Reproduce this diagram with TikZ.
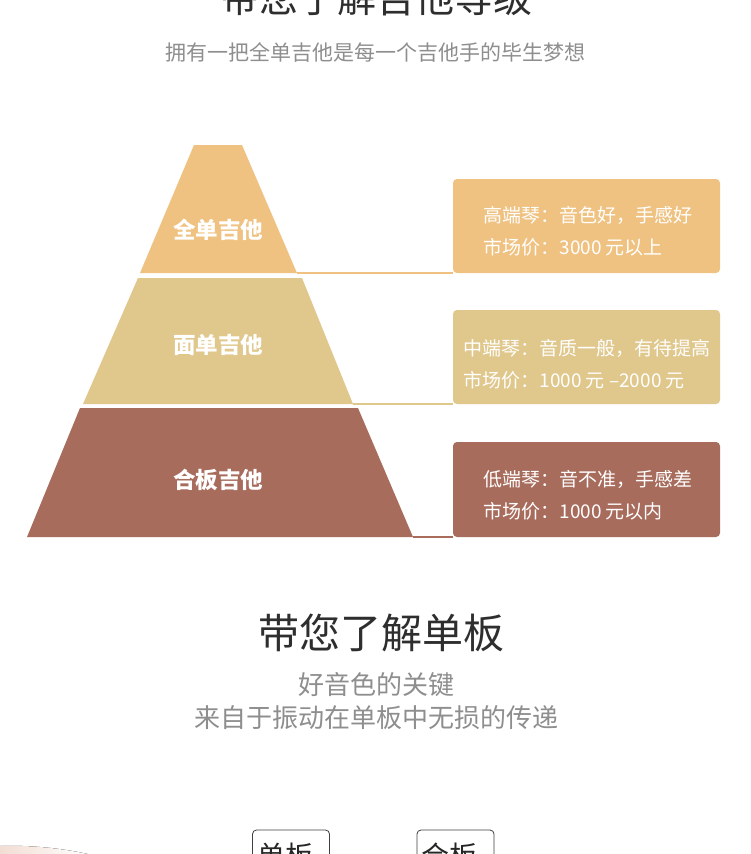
\documentclass[tikz,border=0pt]{standalone}
\usepackage{fontspec}
\setmainfont{Noto Sans CJK SC}
\usepackage{xcolor}
\definecolor{tierhi}{HTML}{EFC281}
\definecolor{tiermid}{HTML}{E0C78C}
\definecolor{tierlow}{HTML}{A86C5D}
\definecolor{headgray}{HTML}{2E2E2E}
\definecolor{subgray}{HTML}{8E8E8E}
\definecolor{blush}{HTML}{F2DDD3}

\begin{document}
\begin{tikzpicture}[x=1pt, y=-1pt,
    tiername/.style={text=white, font=\bfseries\fontsize{22.5}{26}\selectfont},
    infobox/.style={rounded corners=4pt, minimum width=267pt, minimum height=94pt, inner sep=0pt},
    infotext/.style={text=white, align=left, inner sep=0pt, font=\fontsize{19}{32}\selectfont},
    link/.style={line width=2pt},
    subline/.style={text=subgray, inner sep=0pt},
    tab/.style={draw=darkgray, line width=0.8pt, rounded corners=4pt, minimum width=77pt, minimum height=50pt, inner sep=0pt},
    tabtext/.style={text=black!85, inner sep=0pt, font=\fontsize{28}{32}\selectfont}]
  \useasboundingbox (0,0) rectangle (750,854);
  \clip (0,0) rectangle (750,854);
  \fill[white] (0,0) rectangle (750,854);

  \node[anchor=base, text=headgray, inner sep=0pt, font=\fontsize{39}{44}\selectfont] (title) at (376,12) {带您了解吉他等级};
  \node[subline, font=\fontsize{21}{24}\selectfont] (subtitle) at (375,52) {拥有一把全单吉他是每一个吉他手的毕生梦想};

  \fill[tierhi] (194,145) -- (242,145) -- (297,273) coordinate (hicorner) -- (140,273) -- cycle;
  \fill[tiermid] (138,278) -- (302,278) -- (353,404) coordinate (midcorner) -- (83,404) -- cycle;
  \fill[tierlow] (80,408) -- (358,408) -- (413,537) coordinate (lowcorner) -- (27,537) -- cycle;

  \node[tiername] (hiname) at (218,230) {全单吉他};
  \node[tiername] (midname) at (218,345) {面单吉他};
  \node[tiername] (lowname) at (218,480) {合板吉他};

  \node[infobox, fill=tierhi] (hibox) at (586.5,226) {};
  \node[infobox, fill=tiermid] (midbox) at (586.5,357) {};
  \node[infobox, fill=tierlow, minimum height=95pt] (lowbox) at (586.5,489.5) {};

  \node[infotext] (hiinfo) at (588,231) {高端琴：音色好，手感好\\市场价：3000 元以上};
  \node[infotext] (midinfo) at (587,364) {中端琴：音质一般，有待提高\\市场价：1000 元 –2000 元};
  \node[infotext] (lowinfo) at (588,495) {低端琴：音不准，手感差\\市场价：1000 元以内};

  \draw[link, tierhi] (hicorner) -- (hicorner -| hibox.west);
  \draw[link, tiermid] (midcorner) -- (midcorner -| midbox.west);
  \draw[link, tierlow] (lowcorner) -- (lowcorner -| lowbox.west);

  \node[text=headgray, inner sep=0pt, font=\fontsize{41}{46}\selectfont] (boardtitle) at (381,633) {带您了解单板};
  \node[subline, font=\fontsize{26}{30}\selectfont] (keyline) at (376,685) {好音色的关键};
  \node[subline, font=\fontsize{26}{30}\selectfont] (fromline) at (376,718) {来自于振动在单板中无损的传递};

  \fill[left color=blush, right color=white] (0,846) .. controls (30,845) and (60,848) .. (88,854) -- (0,854) -- cycle;

  \node[tab] (solidtab) at (291,855) {};
  \node[tab] (plytab) at (455.5,855) {};
  \node[tabtext] (solidname) at (285,856) {单板};
  \node[tabtext] (plyname) at (449,856) {合板};
\end{tikzpicture}
\end{document}
